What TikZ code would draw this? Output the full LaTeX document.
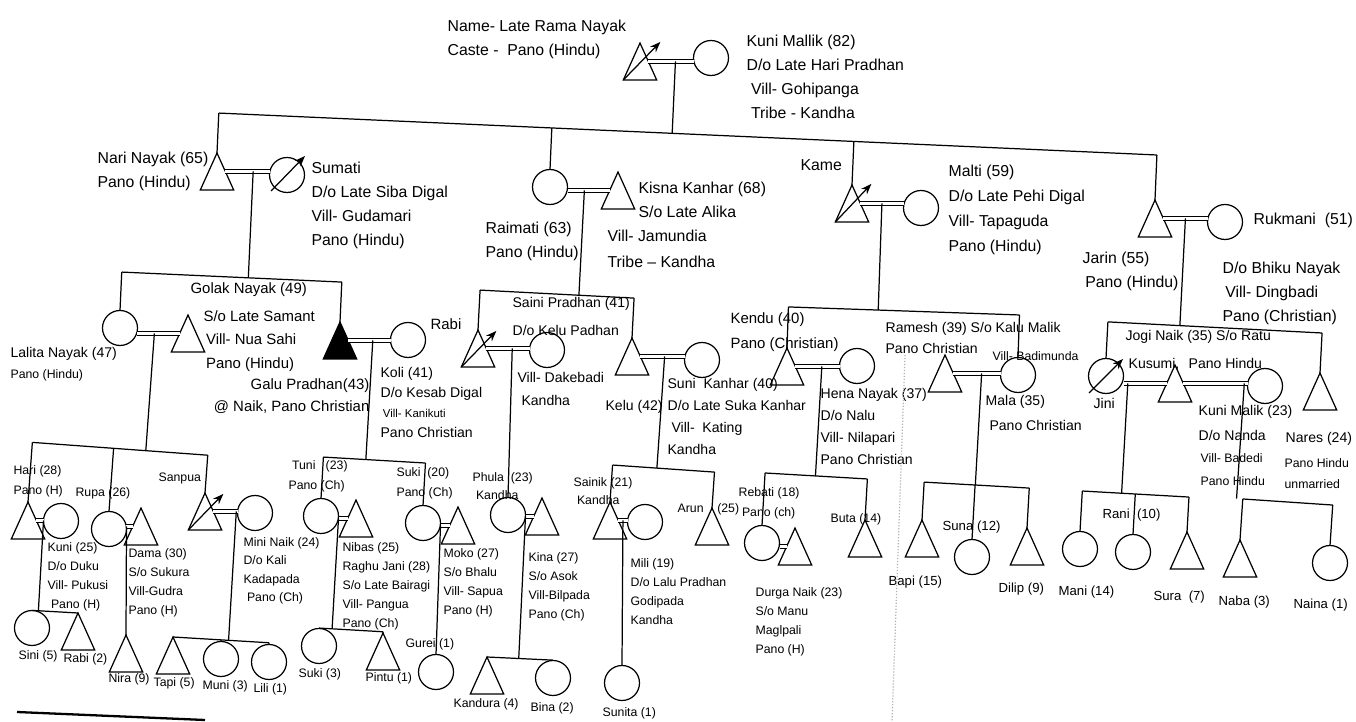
\documentclass[tikz,border=0pt]{standalone}
\usepackage{fontspec}
\setmainfont{Liberation Sans}
\usetikzlibrary{shapes.geometric,arrows.meta,calc}

% sibling bar through two measured points, with drops onto it
\newcommand{\sibbar}[4]{%
  \draw ($(#1l)!(#2)!(#1r)$) -- ($(#1l)!(#3)!(#1r)$);
  \foreach \q in {#4} \draw (\q) -- ($(#1l)!(\q)!(#1r)$);}

\begin{document}
\begin{tikzpicture}[x=0.02cm, y=-0.02cm, line width=0.7pt]

  \tikzstyle{male} = [regular polygon, regular polygon sides=3, draw, inner sep=0, outer sep=0, minimum size=0.77cm, yscale=1.28, anchor=corner 1]
  \tikzstyle{female} = [circle, draw, inner sep=0, outer sep=0, minimum size=0.7cm]
  \tikzstyle{wed} = [double, double distance=1.3pt, line width=0.6pt]
  \tikzstyle{dead} = [-{Stealth[length=6pt, width=4.5pt]}]
  \tikzstyle{lab} = [anchor=north west, align=left, inner sep=0]
  \tikzstyle{gentop} = [lab, font=\fontsize{9}{13.8}\selectfont]
  \tikzstyle{genmid} = [lab, font=\fontsize{8}{12.4}\selectfont]
  \tikzstyle{genlow} = [lab, font=\fontsize{7}{10.8}\selectfont]

  \useasboundingbox (0,0) rectangle (1356,722);

  % first generation
  \node[male] (rama) at (640,43) {};
  \node[female] (kunim) at (711,58) {};

  % second generation
  \node[male] (nari) at (217,153) {};
  \node[female] (sumati) at (287,175) {};
  \node[female] (raimati) at (550,187) {};
  \node[male] (kisna) at (618,172) {};
  \node[male] (kame) at (852,185) {};
  \node[female] (malti) at (921,208) {};
  \node[male] (jarin) at (1155,200) {};
  \node[female] (rukmani) at (1225,222) {};

  % third generation
  \node[female] (lalita) at (120,328) {};
  \node[male] (golak) at (188,315) {};
  \node[male, fill=black] (galu) at (340,322) {};
  \node[female] (koli) at (408,340) {};
  \node[male] (rabi) at (478,330) {};
  \node[female] (saini) at (547,350) {};
  \node[male] (kelu) at (632,338) {};
  \node[female] (suni) at (702,360) {};
  \node[male] (kendu) at (787,348) {};
  \node[female] (hena) at (857,366) {};
  \node[male] (ramesh) at (945,355) {};
  \node[female] (mala) at (1018,375) {};
  \node[female] (jini) at (1106,376) {};
  \node[male] (jogi) at (1175,365) {};
  \node[female] (kunimk) at (1265,386) {};
  \node[male] (nares) at (1320,373) {};

  % fourth generation
  \node[male] (hari) at (28,502) {};
  \node[female] (kuni) at (61,521) {};
  \node[female] (rupa) at (109,529) {};
  \node[male] (dama) at (141,508) {};
  \node[male] (sanpua) at (205,493) {};
  \node[female] (mini) at (255,513) {};
  \node[female] (tuni) at (321,516) {};
  \node[male] (nibas) at (356,500) {};
  \node[female] (suki) at (423,523) {};
  \node[male] (moko) at (458,507) {};
  \node[female] (phula) at (508,515) {};
  \node[male] (kina) at (542,498) {};
  \node[male] (sainik) at (610,502) {};
  \node[female] (mili) at (645,522) {};
  \node[male] (arun) at (712,508) {};
  \node[female] (rebati) at (762,543) {};
  \node[male] (durga) at (795,528) {};
  \node[male] (buta) at (865,520) {};
  \node[male] (bapi) at (922,520) {};
  \node[female] (suna) at (972,557) {};
  \node[male] (dilip) at (1027,528) {};
  \node[female] (mani) at (1080,549) {};
  \node[female] (rani) at (1133,552) {};
  \node[male] (sura) at (1187,532) {};
  \node[male] (naba) at (1240,540) {};
  \node[female] (naina) at (1330,563) {};

  % fifth generation
  \node[female] (sini) at (32,628) {};
  \node[male] (rabitwo) at (78,613) {};
  \node[male] (nira) at (126,635) {};
  \node[male] (tapi) at (173,637) {};
  \node[female] (muni) at (221,659) {};
  \node[female] (lili) at (269,662) {};
  \node[female] (sukithree) at (319,646) {};
  \node[male] (pintu) at (383,633) {};
  \node[female] (gurei) at (436,672) {};
  \node[male] (kandura) at (487,657) {};
  \node[female] (bina) at (553,678) {};
  \node[female] (sunita) at (622,683) {};

  % deceased
  \draw[dead] (rama.corner 2) -- ++(37,-38);
  \draw[dead] (kame.corner 2) -- ++(36,-38);
  \draw[dead] (rabi.corner 2) -- ++(35,-36);
  \draw[dead] (sanpua.corner 2) -- ++(35,-36);
  \draw[dead] ($(sumati)+(-16,16)$) -- ++(34,-35);
  \draw[dead] ($(jini)+(-17,17)$) -- ++(34,-34);

  % marriages
  \draw[wed] (rama.side 3) -- coordinate[pos=0.6] (mrama) (rama.side 3-|kunim.west);
  \draw[wed] (nari.side 3) -- coordinate[pos=0.63] (mnari) (nari.side 3-|sumati.west);
  \draw[wed] (kisna.side 1) -- coordinate[pos=0.6] (mraimati) (kisna.side 1-|raimati.east);
  \draw[wed] (kame.side 3) -- coordinate[pos=0.5] (mkame) (kame.side 3-|malti.west);
  \draw[wed] (jarin.side 3) -- coordinate[pos=0.5] (mjarin) (jarin.side 3-|rukmani.west);
  \draw[wed] (golak.side 1) -- coordinate[pos=0.6] (mlalita) (golak.side 1-|lalita.east);
  \draw[wed] (galu.side 3) -- coordinate[pos=0.58] (mgalu) (galu.side 3-|koli.west);
  \draw[wed] (rabi.side 3) -- coordinate[pos=0.6] (mrabi) (rabi.side 3-|saini.west);
  \draw[wed] (kelu.side 3) -- coordinate[pos=0.55] (mkelu) (kelu.side 3-|suni.west);
  \draw[wed] (kendu.side 3) -- coordinate[pos=0.6] (mkendu) (kendu.side 3-|hena.west);
  \draw[wed] (ramesh.side 3) -- coordinate[pos=0.6] (mramesh) (ramesh.side 3-|mala.west);
  \draw[wed] (jogi.side 1) -- coordinate[pos=0.9] (mjini) (jogi.side 1-|jini.east);
  \draw[wed] (jogi.side 3) -- coordinate[pos=0.95] (mjogi) (jogi.side 3-|kunimk.west);
  \draw[wed] (hari.side 3) -- coordinate[pos=1] (mhari) (hari.side 3-|kuni.west);
  \draw[wed] (dama.side 1) -- coordinate[pos=1] (mrupa) (dama.side 1-|rupa.east);
  \draw[wed] (sanpua.side 3) -- coordinate[pos=0.95] (msanpua) (sanpua.side 3-|mini.west);
  \draw[wed] (nibas.side 1) -- coordinate[pos=1] (mtuni) (nibas.side 1-|tuni.east);
  \draw[wed] (moko.side 1) -- coordinate[pos=1] (msuki) (moko.side 1-|suki.east);
  \draw[wed] (kina.side 1) -- coordinate[pos=1] (mphula) (kina.side 1-|phula.east);
  \draw[wed] (sainik.side 3) -- coordinate[pos=0.5] (msainik) (sainik.side 3-|mili.west);
  \draw[wed] (durga.side 1) -- (durga.side 1-|rebati.east);

  % sibling bars
  \coordinate (Tl) at (217,113); \coordinate (Tr) at (1157,155);
  \sibbar{T}{nari.corner 1}{jarin.corner 1}{mrama,nari.corner 1,raimati.north,kame.corner 1,jarin.corner 1}
  \coordinate (Nl) at (120,272); \coordinate (Nr) at (340,282);
  \sibbar{N}{lalita.north}{galu.corner 1}{mnari,lalita.north,galu.corner 1}
  \coordinate (Rl) at (478,290); \coordinate (Rr) at (632,298);
  \sibbar{R}{rabi.corner 1}{kelu.corner 1}{mraimati,rabi.corner 1,kelu.corner 1}
  \coordinate (Kl) at (790,307); \coordinate (Kr) at (1020,315);
  \sibbar{K}{kendu.corner 1}{mala.north}{mkame,kendu.corner 1,mala.north}
  \coordinate (Jl) at (1110,322); \coordinate (Jr) at (1322,333);
  \sibbar{J}{jini.north}{nares.corner 1}{mjarin,jini.north,nares.corner 1}
  \coordinate (Ll) at (27,442); \coordinate (Lr) at (205,455);
  \sibbar{L}{hari.corner 1}{sanpua.corner 1}{mlalita,hari.corner 1,rupa.north,sanpua.corner 1}
  \coordinate (Hl) at (25,610); \coordinate (Hr) at (78,613);
  \sibbar{H}{sini.north}{rabitwo.corner 1}{mhari,sini.north,rabitwo.corner 1}
  \coordinate (Ml) at (173,637); \coordinate (Mr) at (273,643);
  \sibbar{M}{tapi.corner 1}{lili.north}{msanpua,tapi.corner 1,muni.north,lili.north}
  \coordinate (Cl) at (322,457); \coordinate (Cr) at (425,463);
  \sibbar{C}{tuni.north}{suki.north}{mgalu,tuni.north,suki.north}
  \coordinate (Pl) at (318,628); \coordinate (Pr) at (387,632);
  \sibbar{P}{sukithree.north}{pintu.corner 1}{mtuni,sukithree.north,pintu.corner 1}
  \coordinate (Bl) at (487,657); \coordinate (Br) at (550,660);
  \sibbar{B}{kandura.corner 1}{bina.north}{mphula,kandura.corner 1,bina.north}
  \coordinate (Ul) at (612,465); \coordinate (Ur) at (713,472);
  \sibbar{U}{sainik.corner 1}{arun.corner 1}{mkelu,sainik.corner 1,arun.corner 1}
  \coordinate (El) at (765,473); \coordinate (Er) at (868,479);
  \sibbar{E}{rebati.north}{buta.corner 1}{mkendu,rebati.north,buta.corner 1}
  \coordinate (Al) at (922,482); \coordinate (Ar) at (1028,488);
  \sibbar{A}{bapi.corner 1}{dilip.corner 1}{mramesh,bapi.corner 1,suna.north,dilip.corner 1}
  \coordinate (Il) at (1082,491); \coordinate (Ir) at (1188,497);
  \sibbar{I}{mani.north}{sura.corner 1}{mjini,mani.north,rani.north,sura.corner 1}
  \coordinate (Ql) at (1243,499); \coordinate (Qr) at (1332,505);
  \sibbar{Q}{naba.corner 1}{naina.north}{mjogi,naba.corner 1,naina.north}

  % only children
  \draw (mrupa) -- (nira.corner 1);
  \draw (msuki) -- (gurei.north);
  \draw (mrabi) -- (phula.north);
  \draw (msainik) -- (sunita.north);

  % labels, first and second generation
  \node[gentop] (t-rama) at (447,19) {Name- Late Rama Nayak\\Caste -\ \ Pano (Hindu)};
  \node[gentop] (t-kunim) at (746,34) {Kuni Mallik (82)\\D/o Late Hari Pradhan\\\ Vill- Gohipanga\\\ Tribe - Kandha};
  \node[gentop] (t-nari) at (97,151) {Nari Nayak (65)\\Pano (Hindu)};
  \node[gentop] (t-sumati) at (311,161) {Sumati\\D/o Late Siba Digal\\Vill- Gudamari\\Pano (Hindu)};
  \node[gentop] (t-raimati) at (485,221) {Raimati (63)\\Pano (Hindu)};
  \node[gentop] (t-kisna) at (638,181) {Kisna Kanhar (68)\\S/o Late Alika};
  \node[gentop, font=\fontsize{9}{15}\selectfont] (t-kisnavill) at (607,229) {Vill- Jamundia\\Tribe – Kandha};
  \node[gentop] (t-kame) at (800,159) {Kame};
  \node[gentop, font=\fontsize{9}{14.3}\selectfont] (t-malti) at (948,164) {Malti (59)\\D/o Late Pehi Digal\\Vill- Tapaguda\\Pano (Hindu)};
  \node[gentop] (t-jarin) at (1082,251) {Jarin (55)\\\,Pano (Hindu)};
  \node[gentop] (t-rukmani) at (1253,212) {Rukmani\ \ (51)};
  \node[gentop] (t-rukinfo) at (1222,261) {D/o Bhiku Nayak\\\,Vill- Dingbadi\\Pano (Christian)};

  % third generation
  \node[genmid, font=\fontsize{8.5}{13}\selectfont] (t-golak) at (190,282) {Golak Nayak (49)};
  \node[genmid, font=\fontsize{8.5}{13.3}\selectfont] (t-golakinfo) at (203,310) {S/o Late Samant\\\,Vill- Nua Sahi\\\,Pano (Hindu)};
  \node[genmid, font=\fontsize{8}{12}\selectfont] (t-lalita) at (10,347) {Lalita Nayak (47)\\{\fontsize{7}{8}\selectfont Pano (Hindu)}};
  \node[genmid, anchor=north east, align=right, font=\fontsize{8.5}{12.5}\selectfont] (t-galu) at (370,378) {Galu Pradhan(43)\\@ Naik, Pano Christian};
  \node[genmid, font=\fontsize{8}{11.4}\selectfont] (t-koli) at (380,367) {Koli (41)\\D/o Kesab Digal\\\,{\fontsize{6.5}{8}\selectfont Vill- Kanikuti}\\Pano Christian};
  \node[genmid, font=\fontsize{8.5}{12}\selectfont] (t-rabi) at (430,318) {Rabi};
  \node[genmid, font=\fontsize{8}{15.9}\selectfont] (t-saini) at (512,297) {Saini Pradhan (41)\\D/o Kelu Padhan};
  \node[genmid, font=\fontsize{8}{13}\selectfont] (t-sainivill) at (517,372) {Vill- Dakebadi\\\ Kandha};
  \node[genmid] (t-kelu) at (605,400) {Kelu (42)};
  \node[genmid] (t-suni) at (667,378) {Suni\ \ Kanhar (40)\\D/o Late Suka Kanhar\\\ Vill-\ \ Kating\\Kandha};
  \node[genmid, font=\fontsize{8.5}{14.2}\selectfont] (t-kendu) at (730,312) {Kendu (40)\\Pano (Christian)};
  \node[genmid] (t-hena) at (820,388) {Hena Nayak (37)\\D/o Nalu\\Vill- Nilapari\\Pano Christian};
  \node[genmid, font=\fontsize{8}{12}\selectfont] (t-ramesh) at (885,322) {Ramesh (39) S/o Kalu Malik\\Pano Christian};
  \node[genlow] (t-badimunda) at (992,351) {Vill- Badimunda};
  \node[genmid, font=\fontsize{8}{14.2}\selectfont] (t-mala) at (985,395) {Mala (35)\\\ Pano Christian};
  \node[genmid] (t-jogi) at (1125,330) {Jogi Naik (35) S/o Ratu};
  \node[genmid] (t-kusumi) at (1128,358) {Kusumi,};
  \node[genmid] (t-jogipano) at (1188,358) {Pano Hindu};
  \node[genmid] (t-jini) at (1093,398) {Jini};
  \node[genmid, font=\fontsize{8}{14}\selectfont] (t-kunimk) at (1198,405) {Kuni Malik (23)\\D/o Nanda};
  \node[genlow, font=\fontsize{7}{13}\selectfont] (t-kunimkvill) at (1200,453) {Vill- Badedi\\Pano Hindu};
  \node[genmid] (t-nares) at (1285,432) {Nares (24)};
  \node[genlow, font=\fontsize{7}{12}\selectfont] (t-naresinfo) at (1284,458) {Pano Hindu\\unmarried};

  % fourth and fifth generation
  \node[genlow, font=\fontsize{7}{11.3}\selectfont] (t-hari) at (13,465) {Hari (28)\\Pano (H)};
  \node[genlow] (t-rupa) at (75,487) {Rupa (26)};
  \node[genlow] (t-kuni) at (47,542) {Kuni (25)\\D/o Duku\\Vill- Pukusi\\\ Pano (H)};
  \node[genlow] (t-dama) at (128,548) {Dama (30)\\S/o Sukura\\Vill-Gudra\\Pano (H)};
  \node[genlow] (t-sini) at (18,650) {Sini (5)};
  \node[genlow] (t-rabitwo) at (63,653) {Rabi (2)};
  \node[genlow] (t-nira) at (108,673) {Nira (9)};
  \node[genlow] (t-sanpua) at (158,472) {Sanpua};
  \node[genlow, font=\fontsize{7}{10.5}\selectfont] (t-mini) at (243,537) {Mini Naik (24)\\D/o Kali\\Kadapada\\\ Pano (Ch)};
  \node[genlow] (t-tapi) at (153,677) {Tapi (5)};
  \node[genlow] (t-muni) at (202,680) {Muni (3)};
  \node[genlow] (t-lili) at (253,683) {Lili (1)};
  \node[genlow, font=\fontsize{7}{11.3}\selectfont] (t-tuni) at (288,460) {\ Tuni\ \ \ (23)\\Pano (Ch)};
  \node[genlow] (t-nibas) at (342,542) {Nibas (25)\\Raghu Jani (28)\\S/o Late Bairagi\\Vill- Pangua\\Pano (Ch)};
  \node[genlow] (t-sukithree) at (298,668) {Suki (3)};
  \node[genlow] (t-pintu) at (365,672) {Pintu (1)};
  \node[genlow, font=\fontsize{7}{11.3}\selectfont] (t-suki) at (396,467) {Suki\ \ (20)\\Pano\ (Ch)};
  \node[genlow] (t-gurei) at (405,638) {Gurei (1)};
  \node[genlow] (t-moko) at (443,548) {Moko (27)\\S/o Bhalu\\Vill- Sapua\\Pano (H)};
  \node[genlow, font=\fontsize{7}{10.2}\selectfont] (t-phula) at (472,472) {Phula\ \ (23)\\\ Kandha};
  \node[genlow] (t-kina) at (528,552) {Kina (27)\\S/o Asok\\Vill-Bilpada\\Pano (Ch)};
  \node[genlow] (t-kandura) at (453,698) {Kandura (4)};
  \node[genlow] (t-bina) at (530,702) {Bina (2)};
  \node[genlow, font=\fontsize{7}{10.2}\selectfont] (t-sainik) at (573,477) {Sainik\ (21)\\\ Kandha};
  \node[genlow] (t-mili) at (630,558) {Mili (19)\\D/o Lalu Pradhan\\Godipada\\Kandha};
  \node[genlow] (t-sunita) at (602,707) {Sunita (1)};
  \node[genlow] (t-arun) at (677,503) {Arun\ \ \ \ (25)};
  \node[genlow, font=\fontsize{7}{11.3}\selectfont] (t-rebati) at (738,487) {Rebati (18)\\\ Pano (ch)};
  \node[genlow] (t-buta) at (830,513) {Buta (14)};
  \node[genlow] (t-durga) at (755,587) {Durga Naik (23)\\S/o Manu\\Maglpali\\Pano (H)};
  \node[genlow, font=\fontsize{7.5}{9}\selectfont] (t-bapi) at (888,575) {Bapi (15)};
  \node[genlow, font=\fontsize{7.5}{9}\selectfont] (t-suna) at (942,520) {Suna (12)};
  \node[genlow, font=\fontsize{7.5}{9}\selectfont] (t-dilip) at (998,582) {Dilip (9)};
  \node[genlow, font=\fontsize{7.5}{9}\selectfont] (t-mani) at (1058,585) {Mani (14)};
  \node[genlow, font=\fontsize{7.5}{9}\selectfont] (t-rani) at (1102,508) {Rani\ \ (10)};
  \node[genlow, font=\fontsize{7.5}{9}\selectfont] (t-sura) at (1153,590) {Sura\ \ (7)};
  \node[genlow, font=\fontsize{7.5}{9}\selectfont] (t-naba) at (1218,595) {Naba (3)};
  \node[genlow, font=\fontsize{7.5}{9}\selectfont] (t-naina) at (1293,598) {Naina (1)};

  % marks on the page
  \draw[line width=1.3pt] (17,712) -- (205,720);
  \draw[gray!60, densely dotted] (905,355) -- (892,722);

\end{tikzpicture}
\end{document}
